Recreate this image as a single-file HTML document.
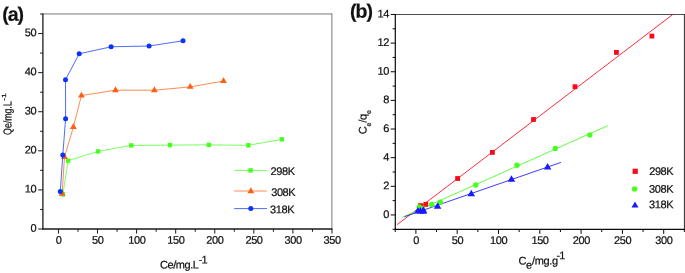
<!DOCTYPE html>
<html><head><meta charset="utf-8"><title>chart</title>
<style>html,body{margin:0;padding:0;background:#fff;}svg{display:block;will-change:transform;}text{font-family:"Liberation Sans",sans-serif;fill:#111;stroke:#111;stroke-width:0.22px;}</style>
</head><body>
<svg width="685" height="273" viewBox="0 0 685 273">
<rect x="0" y="0" width="685" height="273" fill="#ffffff"/>
<line x1="42.90" y1="13.95" x2="331.90" y2="13.95" stroke="#555" stroke-width="0.8"/>
<line x1="331.90" y1="13.55" x2="331.90" y2="229.00" stroke="#555" stroke-width="0.8"/>
<line x1="42.90" y1="13.45" x2="42.90" y2="229.60" stroke="#1a1a1a" stroke-width="1.3"/>
<line x1="42.30" y1="229.00" x2="332.40" y2="229.00" stroke="#1a1a1a" stroke-width="1.3"/>
<line x1="58.45" y1="229.00" x2="58.45" y2="233.60" stroke="#1a1a1a" stroke-width="1"/>
<text x="58.65" y="243.80" transform="rotate(0.05 58.65 243.80)" font-size="11" text-anchor="middle" letter-spacing="-0.4" >0</text>
<line x1="77.99" y1="229.00" x2="77.99" y2="231.80" stroke="#1a1a1a" stroke-width="1"/>
<line x1="97.53" y1="229.00" x2="97.53" y2="233.60" stroke="#1a1a1a" stroke-width="1"/>
<text x="97.73" y="243.80" transform="rotate(0.05 97.73 243.80)" font-size="11" text-anchor="middle" letter-spacing="-0.4" >50</text>
<line x1="117.06" y1="229.00" x2="117.06" y2="231.80" stroke="#1a1a1a" stroke-width="1"/>
<line x1="136.60" y1="229.00" x2="136.60" y2="233.60" stroke="#1a1a1a" stroke-width="1"/>
<text x="136.80" y="243.80" transform="rotate(0.05 136.80 243.80)" font-size="11" text-anchor="middle" letter-spacing="-0.4" >100</text>
<line x1="156.14" y1="229.00" x2="156.14" y2="231.80" stroke="#1a1a1a" stroke-width="1"/>
<line x1="175.68" y1="229.00" x2="175.68" y2="233.60" stroke="#1a1a1a" stroke-width="1"/>
<text x="175.88" y="243.80" transform="rotate(0.05 175.88 243.80)" font-size="11" text-anchor="middle" letter-spacing="-0.4" >150</text>
<line x1="195.21" y1="229.00" x2="195.21" y2="231.80" stroke="#1a1a1a" stroke-width="1"/>
<line x1="214.75" y1="229.00" x2="214.75" y2="233.60" stroke="#1a1a1a" stroke-width="1"/>
<text x="214.95" y="243.80" transform="rotate(0.05 214.95 243.80)" font-size="11" text-anchor="middle" letter-spacing="-0.4" >200</text>
<line x1="234.29" y1="229.00" x2="234.29" y2="231.80" stroke="#1a1a1a" stroke-width="1"/>
<line x1="253.82" y1="229.00" x2="253.82" y2="233.60" stroke="#1a1a1a" stroke-width="1"/>
<text x="254.02" y="243.80" transform="rotate(0.05 254.02 243.80)" font-size="11" text-anchor="middle" letter-spacing="-0.4" >250</text>
<line x1="273.36" y1="229.00" x2="273.36" y2="231.80" stroke="#1a1a1a" stroke-width="1"/>
<line x1="292.90" y1="229.00" x2="292.90" y2="233.60" stroke="#1a1a1a" stroke-width="1"/>
<text x="293.10" y="243.80" transform="rotate(0.05 293.10 243.80)" font-size="11" text-anchor="middle" letter-spacing="-0.4" >300</text>
<line x1="312.44" y1="229.00" x2="312.44" y2="231.80" stroke="#1a1a1a" stroke-width="1"/>
<line x1="331.97" y1="229.00" x2="331.97" y2="233.60" stroke="#1a1a1a" stroke-width="1"/>
<text x="332.17" y="243.80" transform="rotate(0.05 332.17 243.80)" font-size="11" text-anchor="middle" letter-spacing="-0.4" >350</text>
<line x1="42.90" y1="229.00" x2="38.20" y2="229.00" stroke="#1a1a1a" stroke-width="1"/>
<text x="36.20" y="231.70" transform="rotate(0.05 36.20 231.70)" font-size="11" text-anchor="end" letter-spacing="-0.4" >0</text>
<line x1="42.90" y1="209.46" x2="40.10" y2="209.46" stroke="#1a1a1a" stroke-width="1"/>
<line x1="42.90" y1="189.91" x2="38.20" y2="189.91" stroke="#1a1a1a" stroke-width="1"/>
<text x="36.20" y="192.61" transform="rotate(0.05 36.20 192.61)" font-size="11" text-anchor="end" letter-spacing="-0.4" >10</text>
<line x1="42.90" y1="170.37" x2="40.10" y2="170.37" stroke="#1a1a1a" stroke-width="1"/>
<line x1="42.90" y1="150.82" x2="38.20" y2="150.82" stroke="#1a1a1a" stroke-width="1"/>
<text x="36.20" y="153.52" transform="rotate(0.05 36.20 153.52)" font-size="11" text-anchor="end" letter-spacing="-0.4" >20</text>
<line x1="42.90" y1="131.28" x2="40.10" y2="131.28" stroke="#1a1a1a" stroke-width="1"/>
<line x1="42.90" y1="111.73" x2="38.20" y2="111.73" stroke="#1a1a1a" stroke-width="1"/>
<text x="36.20" y="114.43" transform="rotate(0.05 36.20 114.43)" font-size="11" text-anchor="end" letter-spacing="-0.4" >30</text>
<line x1="42.90" y1="92.19" x2="40.10" y2="92.19" stroke="#1a1a1a" stroke-width="1"/>
<line x1="42.90" y1="72.64" x2="38.20" y2="72.64" stroke="#1a1a1a" stroke-width="1"/>
<text x="36.20" y="75.34" transform="rotate(0.05 36.20 75.34)" font-size="11" text-anchor="end" letter-spacing="-0.4" >40</text>
<line x1="42.90" y1="53.09" x2="40.10" y2="53.09" stroke="#1a1a1a" stroke-width="1"/>
<line x1="42.90" y1="33.55" x2="38.20" y2="33.55" stroke="#1a1a1a" stroke-width="1"/>
<text x="36.20" y="36.25" transform="rotate(0.05 36.20 36.25)" font-size="11" text-anchor="end" letter-spacing="-0.4" >50</text>
<line x1="42.90" y1="14.01" x2="40.10" y2="14.01" stroke="#1a1a1a" stroke-width="1"/>
<polyline fill="none" stroke="#46ff1e" stroke-width="0.72" stroke-linejoin="round" points="62.90,194.40 68.10,160.70 98.06,151.40 131.20,145.40 170.00,145.10 208.90,144.90 248.40,145.30 281.80,139.30"/>
<rect x="60.70" y="192.20" width="4.4" height="4.4" fill="#46ff1e"/>
<rect x="65.90" y="158.50" width="4.4" height="4.4" fill="#46ff1e"/>
<rect x="95.86" y="149.20" width="4.4" height="4.4" fill="#46ff1e"/>
<rect x="129.00" y="143.20" width="4.4" height="4.4" fill="#46ff1e"/>
<rect x="167.80" y="142.90" width="4.4" height="4.4" fill="#46ff1e"/>
<rect x="206.70" y="142.70" width="4.4" height="4.4" fill="#46ff1e"/>
<rect x="246.20" y="143.10" width="4.4" height="4.4" fill="#46ff1e"/>
<rect x="279.60" y="137.10" width="4.4" height="4.4" fill="#46ff1e"/>
<polyline fill="none" stroke="#ff5f0f" stroke-width="0.72" stroke-linejoin="round" points="62.10,193.80 64.50,157.00 73.40,127.00 81.40,95.60 115.50,90.20 154.40,90.20 190.20,86.90 223.50,81.10"/>
<polygon points="62.10,189.87 58.70,195.76 65.50,195.76" fill="#ff5f0f"/>
<polygon points="64.50,153.07 61.10,158.96 67.90,158.96" fill="#ff5f0f"/>
<polygon points="73.40,123.07 70.00,128.96 76.80,128.96" fill="#ff5f0f"/>
<polygon points="81.40,91.67 78.00,97.56 84.80,97.56" fill="#ff5f0f"/>
<polygon points="115.50,86.27 112.10,92.16 118.90,92.16" fill="#ff5f0f"/>
<polygon points="154.40,86.27 151.00,92.16 157.80,92.16" fill="#ff5f0f"/>
<polygon points="190.20,82.97 186.80,88.86 193.60,88.86" fill="#ff5f0f"/>
<polygon points="223.50,77.17 220.10,83.06 226.90,83.06" fill="#ff5f0f"/>
<polyline fill="none" stroke="#0a32ff" stroke-width="0.72" stroke-linejoin="round" points="60.30,191.40 62.80,155.00 65.60,118.80 65.50,79.70 79.20,53.80 111.10,46.80 149.10,46.00 183.00,40.80"/>
<circle cx="60.30" cy="191.40" r="2.5" fill="#0a32ff"/>
<circle cx="62.80" cy="155.00" r="2.5" fill="#0a32ff"/>
<circle cx="65.60" cy="118.80" r="2.5" fill="#0a32ff"/>
<circle cx="65.50" cy="79.70" r="2.5" fill="#0a32ff"/>
<circle cx="79.20" cy="53.80" r="2.5" fill="#0a32ff"/>
<circle cx="111.10" cy="46.80" r="2.5" fill="#0a32ff"/>
<circle cx="149.10" cy="46.00" r="2.5" fill="#0a32ff"/>
<circle cx="183.00" cy="40.80" r="2.5" fill="#0a32ff"/>
<line x1="234.20" y1="170.40" x2="267.00" y2="170.40" stroke="#46ff1e" stroke-width="0.72"/>
<rect x="248.40" y="168.20" width="4.4" height="4.4" fill="#46ff1e"/>
<line x1="234.20" y1="191.00" x2="267.00" y2="191.00" stroke="#ff5f0f" stroke-width="0.72"/>
<polygon points="250.80,187.27 247.40,193.16 254.20,193.16" fill="#ff5f0f"/>
<line x1="234.20" y1="208.60" x2="267.00" y2="208.60" stroke="#0a32ff" stroke-width="0.72"/>
<circle cx="250.80" cy="208.60" r="2.5" fill="#0a32ff"/>
<text x="270.60" y="175.00" transform="rotate(0.05 270.60 175.00)" font-size="11" text-anchor="start" letter-spacing="-0.4" >298K</text>
<text x="271.20" y="195.90" transform="rotate(0.05 271.20 195.90)" font-size="11" text-anchor="start" letter-spacing="-0.4" >308K</text>
<text x="270.00" y="213.30" transform="rotate(0.05 270.00 213.30)" font-size="11" text-anchor="start" letter-spacing="-0.4" >318K</text>
<text x="160.0" y="268.6" transform="rotate(0.05 160 268.6)" font-size="11" letter-spacing="-0.45">Ce/mg.L<tspan dy="-5.2" dx="0.2" letter-spacing="-0.9">-1</tspan></text>
<text transform="translate(11.5,134.9) rotate(-89.95) scale(0.765,1)" font-size="11.6" letter-spacing="-0.1" stroke-width="0.1">Qe/mg.L</text>
<text transform="translate(5.9,101.0) rotate(-89.95) scale(1.45,1)" font-size="6" letter-spacing="0" stroke="none" fill="#222">-1</text>
<text x="2.3" y="20.7" transform="rotate(0.05 2.3 20.7)" font-size="19.5" font-weight="bold" stroke-width="0.3" letter-spacing="-1.1">(a)</text>
<line x1="395.30" y1="14.50" x2="684.40" y2="14.50" stroke="#3a3a3a" stroke-width="0.9"/>
<line x1="684.40" y1="14.00" x2="684.40" y2="229.30" stroke="#2c2c2c" stroke-width="1.0"/>
<line x1="395.30" y1="14.00" x2="395.30" y2="229.90" stroke="#0a0a0a" stroke-width="1.2"/>
<line x1="394.70" y1="229.30" x2="684.90" y2="229.30" stroke="#0a0a0a" stroke-width="1.2"/>
<line x1="395.25" y1="229.30" x2="395.25" y2="232.00" stroke="#0a0a0a" stroke-width="1"/>
<line x1="415.90" y1="229.30" x2="415.90" y2="233.90" stroke="#0a0a0a" stroke-width="1"/>
<text x="416.10" y="244.00" transform="rotate(0.05 416.10 244.00)" font-size="11" text-anchor="middle" letter-spacing="-0.4" >0</text>
<line x1="436.55" y1="229.30" x2="436.55" y2="232.00" stroke="#0a0a0a" stroke-width="1"/>
<line x1="457.20" y1="229.30" x2="457.20" y2="233.90" stroke="#0a0a0a" stroke-width="1"/>
<text x="457.40" y="244.00" transform="rotate(0.05 457.40 244.00)" font-size="11" text-anchor="middle" letter-spacing="-0.4" >50</text>
<line x1="477.85" y1="229.30" x2="477.85" y2="232.00" stroke="#0a0a0a" stroke-width="1"/>
<line x1="498.50" y1="229.30" x2="498.50" y2="233.90" stroke="#0a0a0a" stroke-width="1"/>
<text x="498.70" y="244.00" transform="rotate(0.05 498.70 244.00)" font-size="11" text-anchor="middle" letter-spacing="-0.4" >100</text>
<line x1="519.15" y1="229.30" x2="519.15" y2="232.00" stroke="#0a0a0a" stroke-width="1"/>
<line x1="539.80" y1="229.30" x2="539.80" y2="233.90" stroke="#0a0a0a" stroke-width="1"/>
<text x="540.00" y="244.00" transform="rotate(0.05 540.00 244.00)" font-size="11" text-anchor="middle" letter-spacing="-0.4" >150</text>
<line x1="560.45" y1="229.30" x2="560.45" y2="232.00" stroke="#0a0a0a" stroke-width="1"/>
<line x1="581.10" y1="229.30" x2="581.10" y2="233.90" stroke="#0a0a0a" stroke-width="1"/>
<text x="581.30" y="244.00" transform="rotate(0.05 581.30 244.00)" font-size="11" text-anchor="middle" letter-spacing="-0.4" >200</text>
<line x1="601.75" y1="229.30" x2="601.75" y2="232.00" stroke="#0a0a0a" stroke-width="1"/>
<line x1="622.40" y1="229.30" x2="622.40" y2="233.90" stroke="#0a0a0a" stroke-width="1"/>
<text x="622.60" y="244.00" transform="rotate(0.05 622.60 244.00)" font-size="11" text-anchor="middle" letter-spacing="-0.4" >250</text>
<line x1="643.05" y1="229.30" x2="643.05" y2="232.00" stroke="#0a0a0a" stroke-width="1"/>
<line x1="663.70" y1="229.30" x2="663.70" y2="233.90" stroke="#0a0a0a" stroke-width="1"/>
<text x="663.90" y="244.00" transform="rotate(0.05 663.90 244.00)" font-size="11" text-anchor="middle" letter-spacing="-0.4" >300</text>
<line x1="684.35" y1="229.30" x2="684.35" y2="232.00" stroke="#0a0a0a" stroke-width="1"/>
<line x1="395.30" y1="229.27" x2="392.60" y2="229.27" stroke="#0a0a0a" stroke-width="1"/>
<line x1="395.30" y1="214.95" x2="390.70" y2="214.95" stroke="#0a0a0a" stroke-width="1"/>
<text x="388.90" y="217.95" transform="rotate(0.05 388.90 217.95)" font-size="11" text-anchor="end" letter-spacing="-0.4" >0</text>
<line x1="395.30" y1="200.63" x2="392.60" y2="200.63" stroke="#0a0a0a" stroke-width="1"/>
<line x1="395.30" y1="186.31" x2="390.70" y2="186.31" stroke="#0a0a0a" stroke-width="1"/>
<text x="388.90" y="189.31" transform="rotate(0.05 388.90 189.31)" font-size="11" text-anchor="end" letter-spacing="-0.4" >2</text>
<line x1="395.30" y1="171.99" x2="392.60" y2="171.99" stroke="#0a0a0a" stroke-width="1"/>
<line x1="395.30" y1="157.67" x2="390.70" y2="157.67" stroke="#0a0a0a" stroke-width="1"/>
<text x="388.90" y="160.67" transform="rotate(0.05 388.90 160.67)" font-size="11" text-anchor="end" letter-spacing="-0.4" >4</text>
<line x1="395.30" y1="143.35" x2="392.60" y2="143.35" stroke="#0a0a0a" stroke-width="1"/>
<line x1="395.30" y1="129.03" x2="390.70" y2="129.03" stroke="#0a0a0a" stroke-width="1"/>
<text x="388.90" y="132.03" transform="rotate(0.05 388.90 132.03)" font-size="11" text-anchor="end" letter-spacing="-0.4" >6</text>
<line x1="395.30" y1="114.71" x2="392.60" y2="114.71" stroke="#0a0a0a" stroke-width="1"/>
<line x1="395.30" y1="100.39" x2="390.70" y2="100.39" stroke="#0a0a0a" stroke-width="1"/>
<text x="388.90" y="103.39" transform="rotate(0.05 388.90 103.39)" font-size="11" text-anchor="end" letter-spacing="-0.4" >8</text>
<line x1="395.30" y1="86.07" x2="392.60" y2="86.07" stroke="#0a0a0a" stroke-width="1"/>
<line x1="395.30" y1="71.75" x2="390.70" y2="71.75" stroke="#0a0a0a" stroke-width="1"/>
<text x="388.90" y="74.75" transform="rotate(0.05 388.90 74.75)" font-size="11" text-anchor="end" letter-spacing="-0.4" >10</text>
<line x1="395.30" y1="57.43" x2="392.60" y2="57.43" stroke="#0a0a0a" stroke-width="1"/>
<line x1="395.30" y1="43.11" x2="390.70" y2="43.11" stroke="#0a0a0a" stroke-width="1"/>
<text x="388.90" y="46.11" transform="rotate(0.05 388.90 46.11)" font-size="11" text-anchor="end" letter-spacing="-0.4" >12</text>
<line x1="395.30" y1="28.79" x2="392.60" y2="28.79" stroke="#0a0a0a" stroke-width="1"/>
<line x1="395.30" y1="14.47" x2="390.70" y2="14.47" stroke="#0a0a0a" stroke-width="1"/>
<text x="388.90" y="17.47" transform="rotate(0.05 388.90 17.47)" font-size="11" text-anchor="end" letter-spacing="-0.4" >14</text>
<line x1="397.20" y1="224.60" x2="673.00" y2="14.30" stroke="#ff0519" stroke-width="0.85"/>
<line x1="402.00" y1="217.40" x2="607.80" y2="125.70" stroke="#46ff1e" stroke-width="0.85"/>
<line x1="404.50" y1="216.70" x2="560.90" y2="162.40" stroke="#1a1aff" stroke-width="0.85"/>
<rect x="418.10" y="203.20" width="4.8" height="4.8" fill="#ff0519"/>
<rect x="423.40" y="201.90" width="4.8" height="4.8" fill="#ff0519"/>
<rect x="455.20" y="176.10" width="4.8" height="4.8" fill="#ff0519"/>
<rect x="490.00" y="150.00" width="4.8" height="4.8" fill="#ff0519"/>
<rect x="531.10" y="117.10" width="4.8" height="4.8" fill="#ff0519"/>
<rect x="572.60" y="84.30" width="4.8" height="4.8" fill="#ff0519"/>
<rect x="614.00" y="50.00" width="4.8" height="4.8" fill="#ff0519"/>
<rect x="649.50" y="33.70" width="4.8" height="4.8" fill="#ff0519"/>
<circle cx="419.20" cy="207.00" r="2.7" fill="#46ff1e"/>
<circle cx="421.60" cy="208.60" r="2.7" fill="#46ff1e"/>
<circle cx="431.70" cy="204.50" r="2.7" fill="#46ff1e"/>
<circle cx="440.30" cy="202.30" r="2.7" fill="#46ff1e"/>
<circle cx="475.80" cy="185.00" r="2.7" fill="#46ff1e"/>
<circle cx="517.00" cy="165.30" r="2.7" fill="#46ff1e"/>
<circle cx="555.20" cy="148.40" r="2.7" fill="#46ff1e"/>
<circle cx="589.80" cy="134.90" r="2.7" fill="#46ff1e"/>
<polygon points="417.90,207.07 414.15,213.56 421.65,213.56" fill="#1a1aff"/>
<polygon points="420.30,207.07 416.55,213.56 424.05,213.56" fill="#1a1aff"/>
<polygon points="423.40,206.17 419.65,212.66 427.15,212.66" fill="#1a1aff"/>
<polygon points="423.40,207.17 419.65,213.66 427.15,213.66" fill="#1a1aff"/>
<polygon points="437.60,202.27 433.85,208.76 441.35,208.76" fill="#1a1aff"/>
<polygon points="471.30,189.67 467.55,196.16 475.05,196.16" fill="#1a1aff"/>
<polygon points="511.50,175.27 507.75,181.76 515.25,181.76" fill="#1a1aff"/>
<polygon points="547.60,163.07 543.85,169.56 551.35,169.56" fill="#1a1aff"/>
<rect x="632.60" y="168.70" width="5.2" height="5.2" fill="#ff0519"/>
<circle cx="634.60" cy="189.00" r="2.75" fill="#46ff1e"/>
<polygon points="635.00,201.46 631.50,207.52 638.50,207.52" fill="#1a1aff"/>
<text x="649.20" y="175.00" transform="rotate(0.05 649.20 175.00)" font-size="11" text-anchor="start" letter-spacing="-0.4" >298K</text>
<text x="649.00" y="192.70" transform="rotate(0.05 649.00 192.70)" font-size="11" text-anchor="start" letter-spacing="-0.4" >308K</text>
<text x="649.00" y="208.30" transform="rotate(0.05 649.00 208.30)" font-size="11" text-anchor="start" letter-spacing="-0.4" >318K</text>
<text x="518.4" y="264.6" transform="rotate(0.05 518.4 264.6)" font-size="11" letter-spacing="-0.3">C<tspan dy="4.2">e</tspan><tspan dy="-4.2">/mg.g</tspan><tspan dy="-5.4" dx="-1.5" letter-spacing="-0.7">-1</tspan></text>
<text transform="translate(366.4,134.3) rotate(-89.95)" font-size="11" letter-spacing="-0.2">C<tspan dy="4.6" font-size="7">e</tspan><tspan dy="-4.6">/q</tspan><tspan dy="4.6" font-size="7">e</tspan></text>
<text x="350.0" y="17.8" transform="rotate(0.05 350 17.8)" font-size="19.5" font-weight="bold" stroke-width="0.3" letter-spacing="-1.0">(b)</text>
</svg>
</body></html>
